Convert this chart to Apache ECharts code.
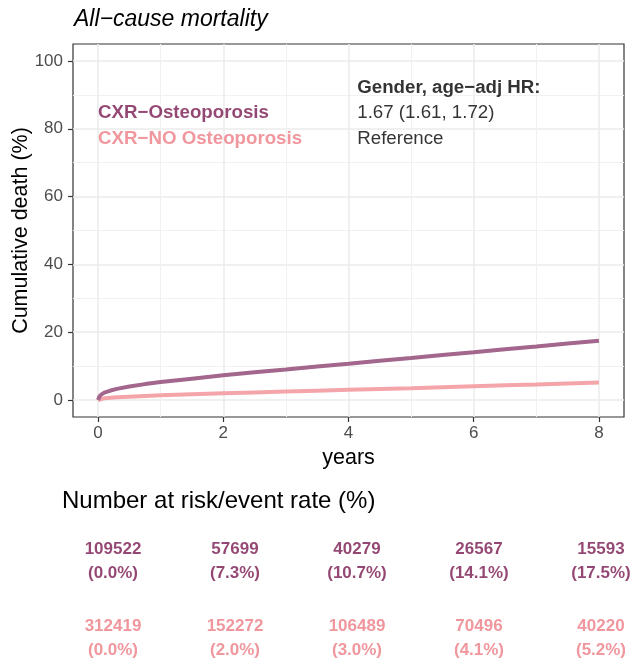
<!DOCTYPE html>
<html>
<head>
<meta charset="utf-8">
<script src="https://cdn.jsdelivr.net/npm/echarts@6/dist/echarts.min.js"></script>
<style>
html,body{margin:0;padding:0;background:#fff;}
#chart{width:632px;height:661px;}
</style>
</head>
<body>
<div id="chart"></div>
<script>
// ---- data ----
const timeYears = [0,0.02,0.05,0.1,0.2,0.3,0.5,0.75,1,1.5,2,2.5,3,3.5,4,4.5,5,5.5,6,6.5,7,7.5,8];
const cumOsteo  = [0,1.0,1.6,2.2,2.8,3.3,4.0,4.7,5.3,6.3,7.3,8.2,9.0,9.9,10.7,11.6,12.4,13.3,14.1,15.0,15.8,16.7,17.5];
const cumNoOsteo= [0,0.2,0.3,0.5,0.7,0.8,1.0,1.2,1.4,1.7,2.0,2.25,2.5,2.75,3.0,3.25,3.5,3.8,4.1,4.35,4.6,4.9,5.2];

const xTicks = [0,2,4,6,8];
const xMinor = [1,3,5,7];
const yTicks = [0,20,40,60,80,100];
const yMinor = [10,30,50,70,90];

const groupNames = ['CXR\u2212Osteoporosis','CXR\u2212NO Osteoporosis'];
const hrHeader = 'Gender, age\u2212adj HR:';
const hrValues = ['1.67 (1.61, 1.72)','Reference'];

const riskTimes = [0,2,4,6,8];
const riskOsteo = [109522,57699,40279,26567,15593];
const rateOsteo = ['0.0','7.3','10.7','14.1','17.5'];
const riskNoOsteo = [312419,152272,106489,70496,40220];
const rateNoOsteo = ['0.0','2.0','3.0','4.1','5.2'];

// ---- styles ----
const darkText = '#78194F';
const lightText = '#EC7C84';
const lineDark = '#A3668C';
const lineLight = '#F4A5AA';
const font = 'Liberation Sans, Arial, Helvetica, sans-serif';

const chart = echarts.init(document.getElementById('chart'), null, {renderer:'canvas'});

function zipXY(xs, ys){ return xs.map((x,i)=>[x, ys[i]]); }

const option = {
  animation:false,
  backgroundColor:'#ffffff',
  textStyle:{fontFamily:font},
  title:[
    {text:'All\u2212cause mortality', left:69, top:3,
     textStyle:{fontFamily:font, fontSize:23, fontStyle:'italic', fontWeight:'normal', color:'#000'}},
    {text:'Number at risk/event rate (%)', left:57, top:484,
     textStyle:{fontFamily:font, fontSize:24, fontWeight:'normal', color:'#000'}}
  ],
  grid:[
    {left:73, right:8, top:44, height:373, show:true, borderColor:'#333333', borderWidth:1.2, backgroundColor:'transparent', containLabel:false, outerBoundsMode:'none'},
    {left:113, right:31, top:561, height:77, show:false, outerBoundsMode:'none'}
  ],
  xAxis:[
    {gridIndex:0, type:'value', min:-0.4, max:8.4,
     name:'years', nameLocation:'middle', nameGap:30, nameMoveOverlap:false,
     nameTextStyle:{fontFamily:font, fontSize:21.5, color:'#000'},
     axisLine:{show:false, onZero:false},
     axisTick:{show:true, length:5, customValues:xTicks, lineStyle:{color:'#333333', width:1.2}},
     axisLabel:{customValues:xTicks, color:'#4D4D4D', fontSize:17, margin:8, fontFamily:font},
     splitLine:{show:true, lineStyle:{color:'#EBEBEB', width:1.5}}},
    {gridIndex:0, type:'value', min:-0.4, max:8.4, position:'bottom',
     axisLine:{show:false, onZero:false},
     axisTick:{show:false, customValues:xMinor},
     axisLabel:{show:false, customValues:xMinor},
     splitLine:{show:true, lineStyle:{color:'#F1F1F1', width:1}}},
    {gridIndex:1, type:'value', min:0, max:8, show:false}
  ],
  yAxis:[
    {gridIndex:0, type:'value', min:-5, max:105,
     name:'Cumulative death (%)', nameLocation:'middle', nameGap:41, nameRotate:90, nameMoveOverlap:false,
     nameTextStyle:{fontFamily:font, fontSize:21.5, color:'#000'},
     axisLine:{show:false, onZero:false},
     axisTick:{show:true, length:5, customValues:yTicks, lineStyle:{color:'#333333', width:1.2}},
     axisLabel:{customValues:yTicks, color:'#4D4D4D', fontSize:17, margin:10, fontFamily:font},
     splitLine:{show:true, lineStyle:{color:'#EBEBEB', width:1.5}}},
    {gridIndex:0, type:'value', min:-5, max:105, position:'left',
     axisLine:{show:false, onZero:false},
     axisTick:{show:false, customValues:yMinor},
     axisLabel:{show:false, customValues:yMinor},
     splitLine:{show:true, lineStyle:{color:'#F1F1F1', width:1}}},
    {gridIndex:1, type:'value', min:0, max:1, inverse:true, show:false}
  ],
  series:[
    {type:'line', xAxisIndex:0, yAxisIndex:0, data:zipXY(timeYears, cumNoOsteo),
     showSymbol:false, symbol:'none', lineStyle:{color:lineLight, width:4}, z:3},
    {type:'line', xAxisIndex:0, yAxisIndex:0, data:zipXY(timeYears, cumOsteo),
     showSymbol:false, symbol:'none', lineStyle:{color:lineDark, width:4}, z:4},
    {type:'scatter', xAxisIndex:0, yAxisIndex:0, symbolSize:0, silent:true, z:6,
     data:[
       {value:[0,84.6], name:groupNames[0], label:{color:darkText, fontWeight:'bold'}},
       {value:[0,77.0], name:groupNames[1], label:{color:lightText, fontWeight:'bold'}},
       {value:[4.14,92.1], name:hrHeader, label:{color:'#000', fontWeight:'bold'}},
       {value:[4.14,84.6], name:hrValues[0], label:{color:'#000'}},
       {value:[4.14,77.0], name:hrValues[1], label:{color:'#000'}}
     ],
     label:{show:true, position:'right', distance:0, formatter:'{b}', fontSize:18.7, fontFamily:font}},
    {type:'scatter', xAxisIndex:2, yAxisIndex:2, symbolSize:0, silent:true, clip:false,
     data:riskTimes.map((t,i)=>({value:[t,0], name:String(riskOsteo[i]), rate:rateOsteo[i]})),
     label:{show:true, position:'inside', color:darkText, fontWeight:'bold', fontSize:17, lineHeight:24, fontFamily:font,
            formatter:p=>p.name+'\n('+p.data.rate+'%)'}},
    {type:'scatter', xAxisIndex:2, yAxisIndex:2, symbolSize:0, silent:true, clip:false,
     data:riskTimes.map((t,i)=>({value:[t,1], name:String(riskNoOsteo[i]), rate:rateNoOsteo[i]})),
     label:{show:true, position:'inside', color:lightText, fontWeight:'bold', fontSize:17, lineHeight:24, fontFamily:font,
            formatter:p=>p.name+'\n('+p.data.rate+'%)'}}
  ]
};
chart.setOption(option);
</script>
</body>
</html>
